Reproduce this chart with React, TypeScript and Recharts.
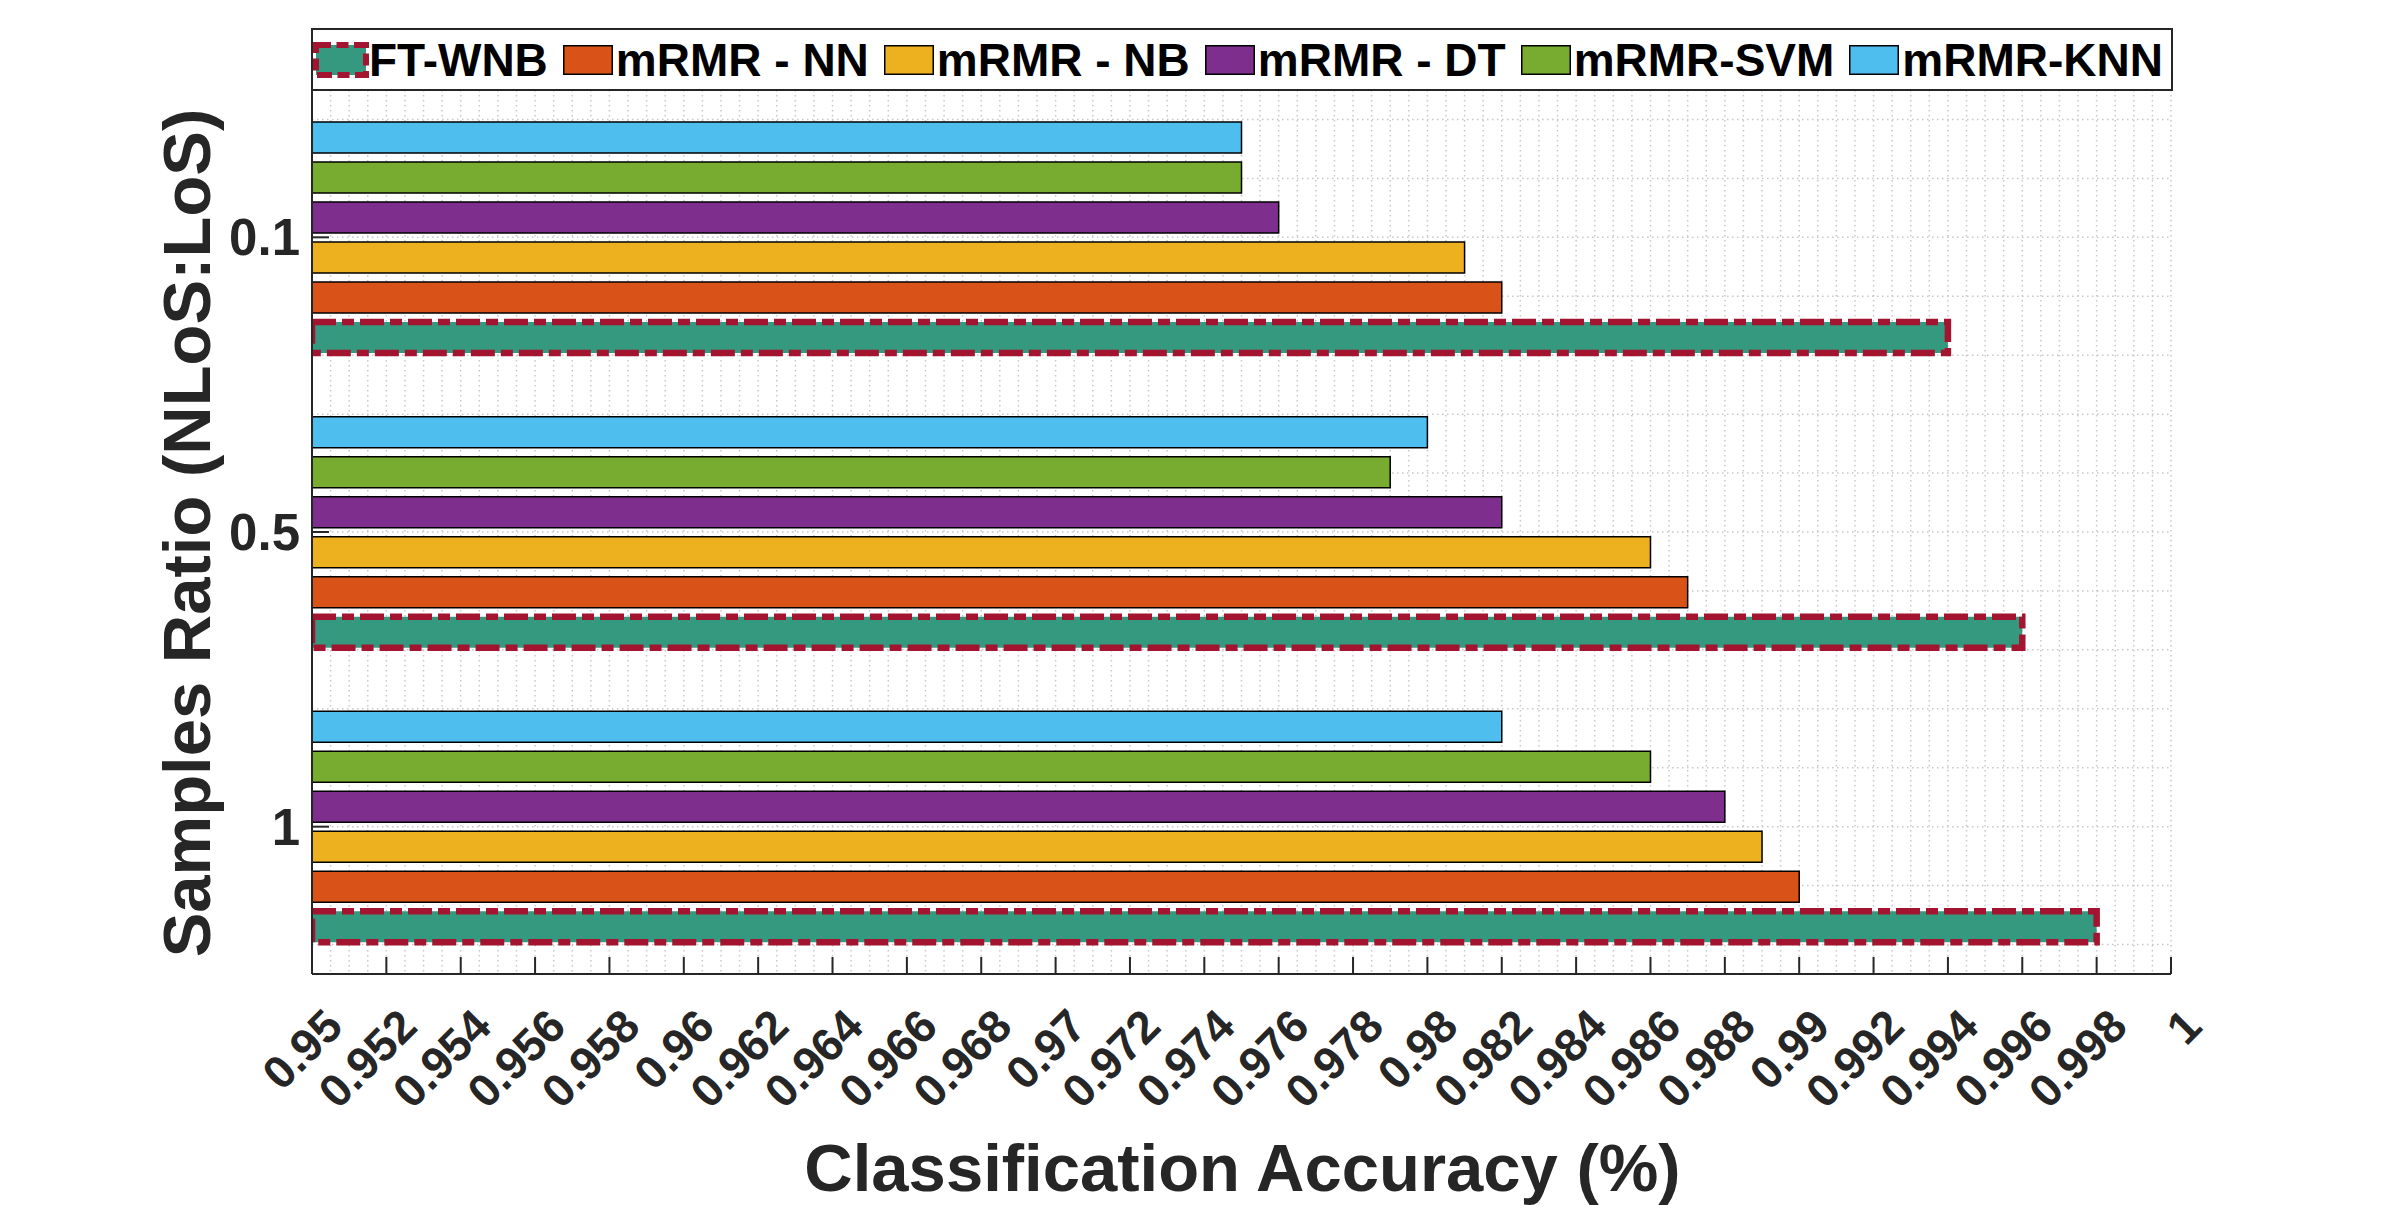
import React from "react";
import { Bar, BarChart, CartesianGrid, Label, Legend, XAxis, YAxis } from "recharts";

// samples ratio NLoS:LoS, top to bottom
const ratios = ["0.1", "0.5", "1"];

// classification accuracy per ratio
const ftWnb = [0.994, 0.996, 0.998];
const mrmrNn = [0.982, 0.987, 0.99];
const mrmrNb = [0.981, 0.986, 0.989];
const mrmrDt = [0.976, 0.982, 0.988];
const mrmrSvm = [0.975, 0.979, 0.986];
const mrmrKnn = [0.975, 0.98, 0.982];

const accuracyTicks = [
  0.95, 0.952, 0.954, 0.956, 0.958, 0.96, 0.962, 0.964, 0.966, 0.968, 0.97, 0.972, 0.974,
  0.976, 0.978, 0.98, 0.982, 0.984, 0.986, 0.988, 0.99, 0.992, 0.994, 0.996, 0.998, 1,
];

const FONT = '"Liberation Sans", Arial, Helvetica, sans-serif';
const INK = "#262626";
const FT_EDGE = "#A2142F";

// legend order
const series = [
  { key: "ftWnb", name: "FT-WNB", color: "#35997F" },
  { key: "nn", name: "mRMR - NN", color: "#D95319" },
  { key: "nb", name: "mRMR - NB", color: "#EDB120" },
  { key: "dt", name: "mRMR - DT", color: "#7E2F8E" },
  { key: "svm", name: "mRMR-SVM", color: "#77AC30" },
  { key: "knn", name: "mRMR-KNN", color: "#4DBEEE" },
];

const rows = ratios.map((ratio, i) => ({
  ratio,
  ftWnb: ftWnb[i],
  nn: mrmrNn[i],
  nb: mrmrNb[i],
  dt: mrmrDt[i],
  svm: mrmrSvm[i],
  knn: mrmrKnn[i],
}));

// dotted grid, minor steps like the matlab figure
const minorX = Array.from({ length: 101 }, (_, i) => +(0.95 + i * 0.0005).toFixed(4));
// category axis runs 0.5..3.5, minor grid every 0.2
const minorY = Array.from({ length: 15 }, (_, i) => +(0.6 + i * 0.2).toFixed(1));

function AccuracyTick(props: any) {
  const { x, y, payload } = props;
  const ax = x + 33;
  const ay = y + 55;
  return (
    <g>
      <line x1={x} y1={y} x2={x} y2={y - 17} stroke={INK} strokeWidth={2} />
      <text
        x={ax}
        y={ay}
        transform={`rotate(-45 ${ax} ${ay})`}
        textAnchor="end"
        fill={INK}
        fontFamily={FONT}
        fontWeight="bold"
        fontSize={46}
      >
        {String(payload.value)}
      </text>
    </g>
  );
}

function TopTick(props: any) {
  const { x, y } = props;
  return <line x1={x} y1={y} x2={x} y2={y + 17} stroke={INK} strokeWidth={2} />;
}

function RatioTick(props: any) {
  const { x, y, payload } = props;
  return (
    <g>
      <line x1={x} y1={y} x2={x + 17} y2={y} stroke={INK} strokeWidth={2} />
      <text
        x={x - 12}
        y={y + 18}
        textAnchor="end"
        fill={INK}
        fontFamily={FONT}
        fontWeight="bold"
        fontSize={51}
      >
        {payload.value}
      </text>
    </g>
  );
}

function RightTick(props: any) {
  const { x, y } = props;
  return <line x1={x} y1={y} x2={x - 17} y2={y} stroke={INK} strokeWidth={2} />;
}

function LegendBox() {
  return (
    <div
      style={{
        boxSizing: "border-box",
        width: 1862,
        height: 63,
        border: `2px solid ${INK}`,
        background: "#fff",
        display: "flex",
        alignItems: "center",
        fontFamily: FONT,
        fontWeight: "bold",
        fontSize: 46,
        color: "#000",
        lineHeight: 1,
        whiteSpace: "nowrap",
      }}
    >
      {series.map((s, i) => (
        <div
          key={s.key}
          style={{ display: "flex", alignItems: "center", marginRight: i < series.length - 1 ? 15 : 0 }}
        >
          {s.key === "ftWnb" ? (
            <svg width={56} height={36} style={{ display: "block" }}>
              <rect
                x={3}
                y={3}
                width={50}
                height={30}
                fill={s.color}
                stroke={FT_EDGE}
                strokeWidth={6}
                strokeDasharray="15 5.5 12 5.5"
              />
            </svg>
          ) : (
            <svg width={50} height={30} style={{ display: "block", marginRight: 3 }}>
              <rect x={0.75} y={0.75} width={48.5} height={28.5} fill={s.color} stroke="#000" strokeWidth={1.5} />
            </svg>
          )}
          <span>{s.name}</span>
        </div>
      ))}
    </div>
  );
}

export default function App() {
  return (
    <div style={{ position: "absolute", left: 0, top: 0, width: 2400, height: 1206, background: "#fff" }}>
      <BarChart
        width={2400}
        height={1206}
        data={rows}
        layout="vertical"
        margin={{ top: 90, right: 229, bottom: 82, left: 192 }}
        barGap={9}
      >
        <CartesianGrid
          xAxisId="minor"
          stroke="#c8c8c8"
          strokeWidth={1.5}
          strokeDasharray="1.5 3.5"
          horizontalCoordinatesGenerator={(p: any) => {
            const top = p?.offset?.top ?? 90;
            const h = p?.offset?.height ?? 884;
            return minorY.map((v) => top + ((v - 0.5) / 3) * h);
          }}
        />
        <XAxis
          type="number"
          domain={[0.95, 1]}
          ticks={accuracyTicks}
          interval={0}
          allowDataOverflow
          height={150}
          tickLine={false}
          tickSize={0}
          tickMargin={0}
          axisLine={{ stroke: INK, strokeWidth: 2 }}
          tick={AccuracyTick}
        >
          <Label
            content={(p: any) => {
              const vb = p.viewBox;
              return (
                <text
                  x={vb.x + vb.width / 2 + 1}
                  y={vb.y + 217}
                  textAnchor="middle"
                  fill={INK}
                  fontFamily={FONT}
                  fontWeight="bold"
                  fontSize={67}
                >
                  Classification Accuracy (%)
                </text>
              );
            }}
          />
        </XAxis>
        <XAxis
          xAxisId="top"
          orientation="top"
          type="number"
          domain={[0.95, 1]}
          ticks={accuracyTicks}
          interval={0}
          allowDataOverflow
          height={0}
          tickLine={false}
          tickSize={0}
          tickMargin={0}
          axisLine={{ stroke: INK, strokeWidth: 2 }}
          tick={TopTick}
        />
        <XAxis xAxisId="minor" type="number" domain={[0.95, 1]} ticks={minorX} interval={0} allowDataOverflow hide />
        <YAxis
          type="category"
          dataKey="ratio"
          width={120}
          interval={0}
          tickLine={false}
          tickSize={0}
          tickMargin={0}
          axisLine={{ stroke: INK, strokeWidth: 2 }}
          tick={RatioTick}
        >
          <Label
            content={(p: any) => {
              const vb = p.viewBox;
              const tx = vb.x + 18;
              const ty = vb.y + vb.height / 2 + 1;
              return (
                <text
                  x={tx}
                  y={ty}
                  transform={`rotate(-90 ${tx} ${ty})`}
                  textAnchor="middle"
                  fill={INK}
                  fontFamily={FONT}
                  fontWeight="bold"
                  fontSize={67}
                >
                  Samples Ratio (NLoS:LoS)
                </text>
              );
            }}
          />
        </YAxis>
        <YAxis
          yAxisId="right"
          orientation="right"
          type="category"
          dataKey="ratio"
          width={0}
          interval={0}
          tickLine={false}
          tickSize={0}
          tickMargin={0}
          axisLine={{ stroke: INK, strokeWidth: 2 }}
          tick={RightTick}
        />
        <Legend
          layout="horizontal"
          verticalAlign="middle"
          align="center"
          wrapperStyle={{ left: 311, top: 28, width: 1862, height: 63 }}
          content={() => <LegendBox />}
        />
        {[...series].reverse().map((s) => {
          const ft = s.key === "ftWnb";
          return (
            <Bar
              key={s.key}
              dataKey={s.key}
              name={s.name}
              fill={s.color}
              barSize={31}
              stroke={ft ? FT_EDGE : "#000"}
              strokeWidth={ft ? 6.5 : 1.5}
              strokeDasharray={ft ? "24 6 12 6" : undefined}
              isAnimationActive={false}
            />
          );
        })}
      </BarChart>
    </div>
  );
}
